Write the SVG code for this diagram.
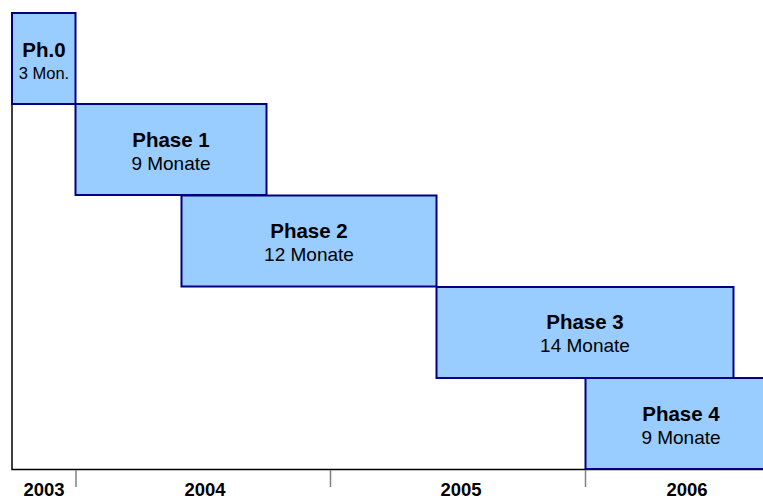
<svg xmlns="http://www.w3.org/2000/svg" width="763" height="498" viewBox="0 0 763 498">
<style>
.box{fill:#99CCFF;stroke:#000080;stroke-width:2}
.t{font-family:"Liberation Sans",Arial,sans-serif;text-anchor:middle;fill:#000}
.b{font-weight:bold;font-size:20.5px}
.r{font-size:19px}
.y{font-weight:bold;font-size:18.5px}
.tick{stroke:#808080;stroke-width:1.5}
.axis{stroke:#000;stroke-width:1.5;fill:none}
</style>
<rect width="763" height="498" fill="#fff"/>
<g id="connectors">
<path class="axis" d="M12,104 V469.5 H763"/>
<line class="tick" x1="76" y1="470" x2="76" y2="487"/>
<line class="tick" x1="330.5" y1="470" x2="330.5" y2="487"/>
<line class="tick" x1="585.5" y1="470" x2="585.5" y2="487"/>
</g>
<g id="phase0">
<rect class="box" x="12" y="13" width="63.5" height="91"/>
<text class="t b" x="44" y="57">Ph.0</text>
<text class="t" x="44" y="79" font-size="16.5">3 Mon.</text>
</g>
<g id="phase1">
<rect class="box" x="75.5" y="104" width="191" height="91"/>
<text class="t b" x="171" y="146.5">Phase 1</text>
<text class="t r" x="171" y="169.5">9 Monate</text>
</g>
<g id="phase2">
<rect class="box" x="181.5" y="195.5" width="255" height="91"/>
<text class="t b" x="309" y="237.5">Phase 2</text>
<text class="t r" x="309" y="260.5">12 Monate</text>
</g>
<g id="phase3">
<rect class="box" x="436.5" y="287" width="297" height="91"/>
<text class="t b" x="585" y="329">Phase 3</text>
<text class="t r" x="585" y="352">14 Monate</text>
</g>
<g id="phase4">
<rect class="box" x="585.5" y="378" width="192" height="91"/>
<text class="t b" x="681" y="420.5">Phase 4</text>
<text class="t r" x="681" y="443.5">9 Monate</text>
</g>
<g id="years">
<text class="t y" x="44" y="495.5">2003</text>
<text class="t y" x="205" y="495.5">2004</text>
<text class="t y" x="461" y="495.5">2005</text>
<text class="t y" x="687" y="495.5">2006</text>
</g>
</svg>
